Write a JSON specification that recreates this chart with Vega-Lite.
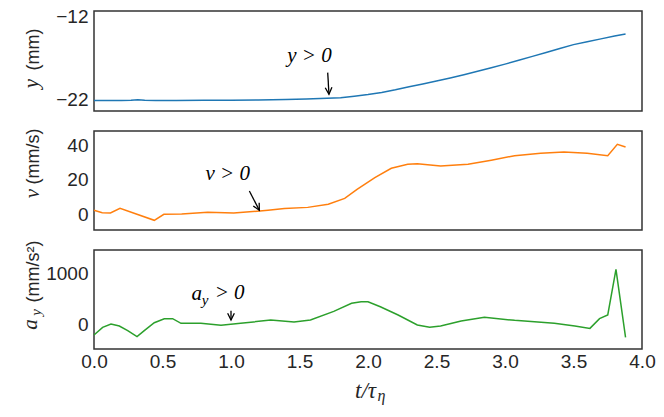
{
  "$schema": "https://vega.github.io/schema/vega-lite/v6.json",
  "background": "white",
  "padding": {"left": 18, "top": 7, "right": 5, "bottom": 5},
  "spacing": 20,
  "bounds": "flush",
  "config": {
    "font": "Liberation Sans",
    "view": {"stroke": "#333333", "strokeWidth": 1.5},
    "axis": {
      "grid": false, "ticks": false, "domain": false, "labelFlush": false,
      "labelFontSize": 19, "labelColor": "#262626", "labelPadding": 6,
      "titleFontSize": 18, "titleFontWeight": "normal", "titleColor": "#262626",
      "titleAlign": "center", "titleBaseline": "middle"
    },
    "text": {"font": "Liberation Serif", "fontStyle": "italic", "fontSize": 21, "color": "black"}
  },
  "datasets": {
    "pos": [
      {"t": 0, "y": -22.05}, {"t": 0.1, "y": -22.05}, {"t": 0.2, "y": -22.05}, {"t": 0.27, "y": -22.03},
      {"t": 0.32, "y": -21.96}, {"t": 0.37, "y": -22.03}, {"t": 0.45, "y": -22.05}, {"t": 0.6, "y": -22.05},
      {"t": 0.8, "y": -22.04}, {"t": 1.0, "y": -22.02}, {"t": 1.2, "y": -21.99}, {"t": 1.4, "y": -21.94},
      {"t": 1.55, "y": -21.88}, {"t": 1.7, "y": -21.8}, {"t": 1.8, "y": -21.72}, {"t": 1.9, "y": -21.55},
      {"t": 2.0, "y": -21.35}, {"t": 2.1, "y": -21.1}, {"t": 2.2, "y": -20.78}, {"t": 2.3, "y": -20.42},
      {"t": 2.4, "y": -20.08}, {"t": 2.5, "y": -19.72}, {"t": 2.6, "y": -19.35}, {"t": 2.7, "y": -18.95},
      {"t": 2.8, "y": -18.55}, {"t": 2.9, "y": -18.12}, {"t": 3.0, "y": -17.68}, {"t": 3.1, "y": -17.22},
      {"t": 3.2, "y": -16.75}, {"t": 3.3, "y": -16.28}, {"t": 3.4, "y": -15.8}, {"t": 3.5, "y": -15.33},
      {"t": 3.6, "y": -14.98}, {"t": 3.7, "y": -14.64}, {"t": 3.8, "y": -14.3}, {"t": 3.88, "y": -14.05}
    ],
    "vel": [
      {"t": 0, "v": 2.2}, {"t": 0.06, "v": 0.8}, {"t": 0.12, "v": 0.6}, {"t": 0.19, "v": 3.3},
      {"t": 0.44, "v": -3.7}, {"t": 0.51, "v": -0.2}, {"t": 0.64, "v": 0.0}, {"t": 0.83, "v": 1.0},
      {"t": 1.02, "v": 0.6}, {"t": 1.19, "v": 1.6}, {"t": 1.27, "v": 2.2}, {"t": 1.39, "v": 3.3},
      {"t": 1.56, "v": 3.9}, {"t": 1.71, "v": 5.7}, {"t": 1.83, "v": 9.2}, {"t": 1.92, "v": 14.5},
      {"t": 2.05, "v": 21.4}, {"t": 2.17, "v": 26.9}, {"t": 2.29, "v": 29.2}, {"t": 2.36, "v": 29.6},
      {"t": 2.53, "v": 28.2}, {"t": 2.73, "v": 29.2}, {"t": 2.9, "v": 31.6}, {"t": 3.07, "v": 34.3},
      {"t": 3.26, "v": 35.7}, {"t": 3.43, "v": 36.5}, {"t": 3.6, "v": 35.7}, {"t": 3.75, "v": 34.3},
      {"t": 3.82, "v": 41}, {"t": 3.88, "v": 39.4}
    ],
    "acc": [
      {"t": 0, "a": -217}, {"t": 0.063, "a": -66}, {"t": 0.124, "a": 0}, {"t": 0.185, "a": -39},
      {"t": 0.246, "a": -131}, {"t": 0.314, "a": -250}, {"t": 0.367, "a": -131}, {"t": 0.44, "a": 26},
      {"t": 0.513, "a": 105}, {"t": 0.574, "a": 105}, {"t": 0.635, "a": 13}, {"t": 0.78, "a": 13},
      {"t": 0.927, "a": -26}, {"t": 1.07, "a": 13}, {"t": 1.29, "a": 79}, {"t": 1.46, "a": 39},
      {"t": 1.58, "a": 79}, {"t": 1.75, "a": 250}, {"t": 1.88, "a": 408}, {"t": 1.95, "a": 440},
      {"t": 2.0, "a": 440}, {"t": 2.09, "a": 341}, {"t": 2.22, "a": 178}, {"t": 2.36, "a": -20},
      {"t": 2.45, "a": -66}, {"t": 2.53, "a": -39}, {"t": 2.68, "a": 59}, {"t": 2.85, "a": 131},
      {"t": 3.07, "a": 72}, {"t": 3.36, "a": 13}, {"t": 3.51, "a": -39}, {"t": 3.62, "a": -86},
      {"t": 3.69, "a": 105}, {"t": 3.75, "a": 178}, {"t": 3.81, "a": 1079}, {"t": 3.88, "a": -263}
    ],
    "labels": [
      {"panel": "y", "role": "main", "label": "y > 0", "t": 1.573, "v": -16.7},
      {"panel": "v", "role": "main", "label": "v > 0", "t": 0.976, "v": 23.3},
      {"panel": "a", "role": "main", "label": "a", "t": 0.75, "v": 600},
      {"panel": "a", "role": "sub", "label": "y", "t": 0.81, "v": 480},
      {"panel": "a", "role": "main", "label": "> 0", "t": 0.99, "v": 602}
    ],
    "arrows": [
      {"panel": "y", "t1": 1.706, "v1": -18.71, "t2": 1.715, "v2": -21.31},
      {"panel": "v", "t1": 1.134, "v1": 13.5, "t2": 1.207, "v2": 2.2},
      {"panel": "a", "t1": 1.0, "v1": 262, "t2": 1.0, "v2": 79}
    ]
  },
  "vconcat": [
    {
      "width": 548, "height": 100,
      "resolve": {"axis": {"y": "independent"}},
      "layer": [
        {
          "mark": {"type": "rule", "color": "#dddddd", "strokeWidth": 1.5},
          "encoding": {"y": {"datum": -22, "type": "quantitative", "axis": null}}
        },
        {
          "data": {"name": "pos"},
          "mark": {"type": "line", "color": "#1f77b4", "strokeWidth": 1.5},
          "encoding": {
            "x": {"field": "t", "type": "quantitative", "scale": {"domain": [0, 4], "nice": false}, "axis": null},
            "y": {"field": "y", "type": "quantitative", "scale": {"domain": [-23.33, -11.28], "nice": false, "zero": false},
                  "axis": {"orient": "left", "values": [-22, -12], "format": "d", "title": "(mm)", "titleX": -61, "titleY": 38}}
          }
        },
        {
          "data": {"name": "labels"},
          "transform": [{"filter": "datum.panel === 'y'"}],
          "mark": {"type": "text"},
          "encoding": {
            "x": {"field": "t", "type": "quantitative", "axis": null},
            "y": {"field": "v", "type": "quantitative",
                  "axis": {"orient": "left", "labels": false, "title": "y", "titleFont": "Liberation Serif", "titleFontStyle": "italic", "titleFontSize": 21, "titleX": -63, "titleY": 72}},
            "text": {"field": "label"}
          }
        },
        {
          "data": {"name": "arrows"},
          "transform": [{"filter": "datum.panel === 'y'"}],
          "mark": {"type": "rule", "color": "black", "strokeWidth": 1.3},
          "encoding": {"x": {"field": "t1", "type": "quantitative", "axis": null}, "y": {"field": "v1", "type": "quantitative", "axis": null}, "x2": {"field": "t2"}, "y2": {"field": "v2"}}
        },
        {
          "data": {"name": "arrows"},
          "transform": [{"filter": "datum.panel === 'y'"}],
          "mark": {"type": "point", "shape": "M-0.5,-1L0,0L0.5,-1", "filled": false, "color": "black", "strokeWidth": 1.3, "size": 180, "opacity": 1, "angle": -3},
          "encoding": {"x": {"field": "t2", "type": "quantitative", "axis": null}, "y": {"field": "v2", "type": "quantitative", "axis": null}}
        }
      ]
    },
    {
      "width": 548, "height": 99,
      "resolve": {"axis": {"y": "independent"}},
      "layer": [
        {
          "mark": {"type": "rule", "color": "#d0d0d0", "strokeWidth": 1},
          "encoding": {"y": {"datum": 0, "type": "quantitative", "axis": null}}
        },
        {
          "data": {"name": "vel"},
          "mark": {"type": "line", "color": "#ff7f0e", "strokeWidth": 1.5},
          "encoding": {
            "x": {"field": "t", "type": "quantitative", "scale": {"domain": [0, 4], "nice": false}, "axis": null},
            "y": {"field": "v", "type": "quantitative", "scale": {"domain": [-9.4, 48.8], "nice": false, "zero": false},
                  "axis": {"orient": "left", "values": [0, 20, 40], "format": "d", "title": "(mm/s)", "titleX": -61, "titleY": 25}}
          }
        },
        {
          "data": {"name": "labels"},
          "transform": [{"filter": "datum.panel === 'v'"}],
          "mark": {"type": "text"},
          "encoding": {
            "x": {"field": "t", "type": "quantitative", "axis": null},
            "y": {"field": "v", "type": "quantitative",
                  "axis": {"orient": "left", "labels": false, "title": "v", "titleFont": "Liberation Serif", "titleFontStyle": "italic", "titleFontSize": 21, "titleX": -62, "titleY": 62}},
            "text": {"field": "label"}
          }
        },
        {
          "data": {"name": "arrows"},
          "transform": [{"filter": "datum.panel === 'v'"}],
          "mark": {"type": "rule", "color": "black", "strokeWidth": 1.3},
          "encoding": {"x": {"field": "t1", "type": "quantitative", "axis": null}, "y": {"field": "v1", "type": "quantitative", "axis": null}, "x2": {"field": "t2"}, "y2": {"field": "v2"}}
        },
        {
          "data": {"name": "arrows"},
          "transform": [{"filter": "datum.panel === 'v'"}],
          "mark": {"type": "point", "shape": "M-0.5,-1L0,0L0.5,-1", "filled": false, "color": "black", "strokeWidth": 1.3, "size": 180, "opacity": 1, "angle": -28},
          "encoding": {"x": {"field": "t2", "type": "quantitative", "axis": null}, "y": {"field": "v2", "type": "quantitative", "axis": null}}
        }
      ]
    },
    {
      "width": 548, "height": 99,
      "resolve": {"axis": {"x": "independent", "y": "independent"}},
      "layer": [
        {
          "mark": {"type": "rule", "color": "#d0d0d0", "strokeWidth": 1},
          "encoding": {"y": {"datum": 0, "type": "quantitative", "axis": null}}
        },
        {
          "data": {"name": "acc"},
          "mark": {"type": "line", "color": "#2ca02c", "strokeWidth": 1.5},
          "encoding": {
            "x": {"field": "t", "type": "quantitative", "scale": {"domain": [0, 4], "nice": false},
                  "axis": {"orient": "bottom", "values": [0, 0.5, 1, 1.5, 2, 2.5, 3, 3.5, 4], "format": ".1f", "labelPadding": 3,
                           "title": "t/τ", "titleFont": "Liberation Serif", "titleFontStyle": "italic", "titleFontSize": 23,
                           "titleBaseline": "alphabetic", "titleX": 271, "titleY": 48}},
            "y": {"field": "a", "type": "quantitative", "scale": {"domain": [-493, 1460], "nice": false, "zero": false},
                  "axis": {"orient": "left", "values": [0, 1000], "format": "d", "title": "(mm/s²)", "titleX": -61, "titleY": 21}}
          }
        },
        {
          "data": {"name": "labels"},
          "transform": [{"filter": "datum.panel === 'a' && datum.role === 'main'"}],
          "mark": {"type": "text"},
          "encoding": {
            "x": {"field": "t", "type": "quantitative",
                  "axis": {"orient": "bottom", "labels": false, "title": "η", "titleFont": "Liberation Serif", "titleFontStyle": "italic", "titleFontSize": 16,
                           "titleAlign": "left", "titleBaseline": "alphabetic", "titleX": 283, "titleY": 51}},
            "y": {"field": "v", "type": "quantitative",
                  "axis": {"orient": "left", "labels": false, "title": "a", "titleFont": "Liberation Serif", "titleFontStyle": "italic", "titleFontSize": 21, "titleX": -64, "titleY": 74}},
            "text": {"field": "label"}
          }
        },
        {
          "data": {"name": "labels"},
          "transform": [{"filter": "datum.panel === 'a' && datum.role === 'sub'"}],
          "mark": {"type": "text", "fontSize": 15},
          "encoding": {
            "x": {"field": "t", "type": "quantitative", "axis": null},
            "y": {"field": "v", "type": "quantitative",
                  "axis": {"orient": "left", "labels": false, "title": "y", "titleFont": "Liberation Serif", "titleFontStyle": "italic", "titleFontSize": 15, "titleX": -59, "titleY": 62}},
            "text": {"field": "label"}
          }
        },
        {
          "data": {"name": "arrows"},
          "transform": [{"filter": "datum.panel === 'a'"}],
          "mark": {"type": "rule", "color": "black", "strokeWidth": 1.3},
          "encoding": {"x": {"field": "t1", "type": "quantitative", "axis": null}, "y": {"field": "v1", "type": "quantitative", "axis": null}, "x2": {"field": "t2"}, "y2": {"field": "v2"}}
        },
        {
          "data": {"name": "arrows"},
          "transform": [{"filter": "datum.panel === 'a'"}],
          "mark": {"type": "point", "shape": "M-0.5,-1L0,0L0.5,-1", "filled": false, "color": "black", "strokeWidth": 1.3, "size": 180, "opacity": 1},
          "encoding": {"x": {"field": "t2", "type": "quantitative", "axis": null}, "y": {"field": "v2", "type": "quantitative", "axis": null}}
        }
      ]
    }
  ]
}
